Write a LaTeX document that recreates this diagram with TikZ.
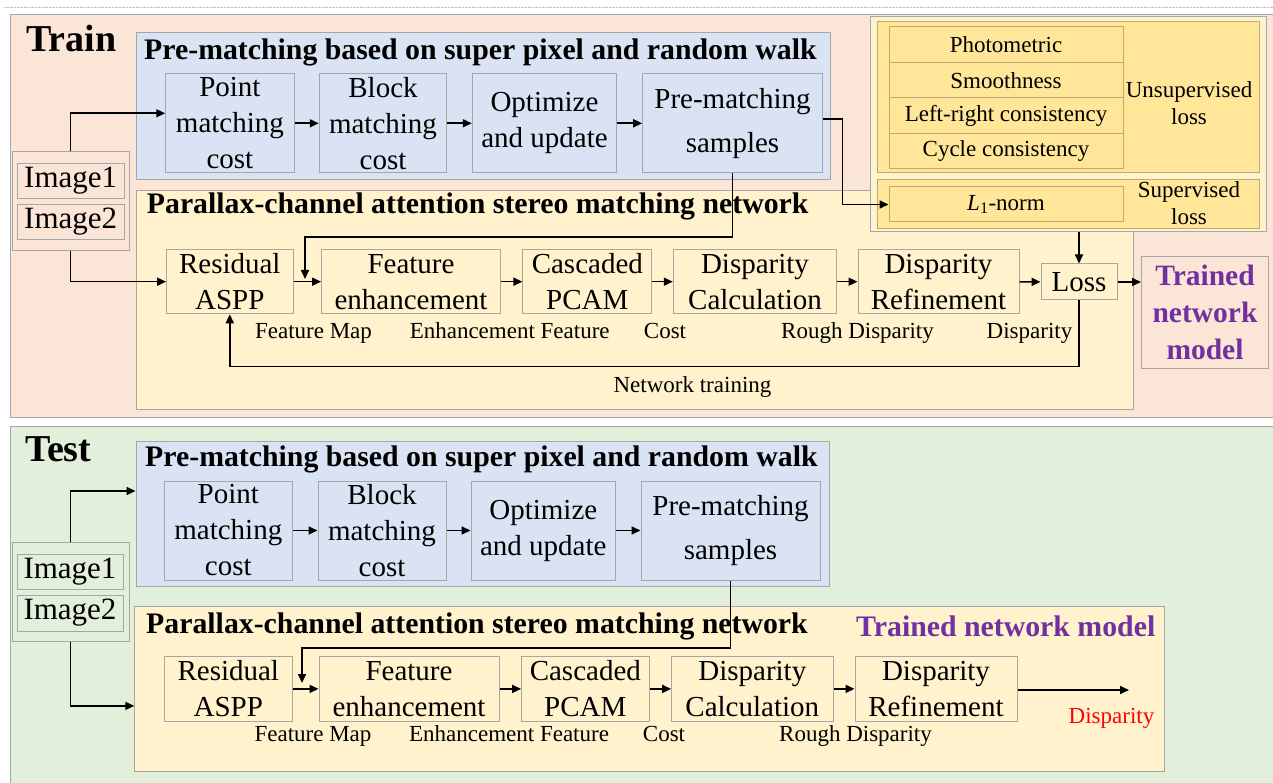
\documentclass[tikz,border=0pt]{standalone}
\usepackage{fontspec}
\setmainfont{Liberation Serif}
\usetikzlibrary{arrows.meta}
\newcommand\myfs[2]{\fontsize{#1}{#2}\selectfont}
\definecolor{peach}{HTML}{FBE5D6}
\definecolor{bluef}{HTML}{DAE3F3}
\definecolor{yelf}{HTML}{FFF2CC}
\definecolor{goldf}{HTML}{FFE699}
\definecolor{greenf}{HTML}{E2EFDA}
\definecolor{bordc}{HTML}{A6A6A6}
\definecolor{goldb}{HTML}{BFAA70}
\definecolor{purp}{HTML}{7030A0}
\tikzset{
  panel/.style={draw=bordc, line width=1pt, inner sep=0pt},
  box/.style={draw=bordc, line width=1pt, inner sep=0pt, align=center, font=\myfs{29}{36}},
  lrow/.style={draw=goldb, fill=goldf, line width=1pt, inner sep=0pt, align=center, font=\myfs{23}{27}, minimum width=234, minimum height=35.5},
  ttl/.style={inner sep=0pt, font=\bfseries\myfs{29.8}{34}},
  big/.style={inner sep=0pt, font=\bfseries\myfs{38}{42}},
  lbl/.style={inner sep=0pt, font=\myfs{23}{27}},
  arr/.style={line width=1.6pt, -{Triangle[length=9pt,width=8pt]}},
}
\begin{document}
\begin{tikzpicture}[x=1pt,y=-1pt]
\useasboundingbox (0,0) rectangle (1273,783);
\draw[densely dotted, gray!50] (4,7) -- (1273,7);
% ================= TRAIN =================
\node[panel, fill=peach, minimum width=1263, minimum height=402] (trainp) at (641.5,216) {};
\node[panel, fill=bluef, minimum width=694, minimum height=147.3] (blue1) at (483.5,106.3) {};
\node[panel, fill=yelf, minimum width=997, minimum height=218] (yel1) at (634.5,300) {};
\node[panel, fill=yelf, minimum width=396, minimum height=215] (lossout) at (1068,124.5) {};
\node[panel, draw=goldb, fill=goldf, minimum width=382, minimum height=151] (unsup) at (1068,97.5) {};
\node[panel, draw=goldb, fill=goldf, minimum width=382, minimum height=49] (sup) at (1068,204.5) {};
\node[lrow] (r1) at (1006,44.75) {Photometric};
\node[lrow] (r2) at (1006,80.25) {Smoothness};
\node[lrow] (r3) at (1006,115.75) {Left-right consistency};
\node[lrow] (r4) at (1006,151.25) {Cycle consistency};
\node[lrow, minimum height=35] (l1) at (1006,204.5) {\textit{L}\textsubscript{1}-norm};
\node[lbl, align=center, font=\myfs{23}{27.3}] (unsuplbl) at (1189,103) {Unsupervised\\loss};
\node[lbl, align=center, font=\myfs{23}{26.6}] (suplbl) at (1189,203) {Supervised\\loss};

\node[big, anchor=base west] (traint) at (26,51.7) {Train};
\node[ttl, anchor=base west] (pret1) at (144,59.3) {Pre-matching based on super pixel and random walk};
\node[ttl, anchor=base west] (part1) at (146.7,213.3) {Parallax-channel attention stereo matching network};

\node[panel, fill=peach, minimum width=117, minimum height=98.3] (img1out) at (70.5,201) {};
\node[box, fill=peach, font=\myfs{31}{34}, minimum width=106.7, minimum height=35.3] (img1a) at (70.7,180.7) {Image1};
\node[box, fill=peach, font=\myfs{31}{34}, minimum width=106.7, minimum height=35.3] (img1b) at (70.7,221.7) {Image2};

\node[box, fill=bluef, minimum width=128.3, minimum height=98.7] (pm1) at (229.9,123.3) {Point\\matching\\cost};
\node[box, fill=bluef, minimum width=127.4, minimum height=98.7] (pm2) at (383,123.3) {Block\\matching\\cost};
\node[box, fill=bluef, minimum width=144.4, minimum height=98.7] (pm3) at (544.5,123.3) {Optimize\\and update};
\node[box, fill=bluef, minimum width=179.6, minimum height=98.7, font=\myfs{29}{44}] (pm4) at (732.5,123.3) {Pre-matching\\samples};

\node[box, fill=yelf, minimum width=126.5, minimum height=64.2] (ra) at (229.8,281.7) {Residual\\ASPP};
\node[box, fill=yelf, minimum width=178.8, minimum height=64.2] (fe) at (411,281.7) {Feature\\enhancement};
\node[box, fill=yelf, minimum width=128.7, minimum height=64.2] (cp) at (587.3,281.7) {Cascaded\\PCAM};
\node[box, fill=yelf, minimum width=163.4, minimum height=64.2] (dc) at (755,281.7) {Disparity\\Calculation};
\node[box, fill=yelf, minimum width=161, minimum height=64.2] (dr) at (938.5,281.7) {Disparity\\Refinement};
\node[box, fill=yelf, minimum width=76, minimum height=36] (loss) at (1079,282) {Loss};
\node[box, fill=peach, minimum width=127, minimum height=111, text=purp, font=\bfseries\myfs{29.5}{37}] (tnm) at (1205,312.5) {Trained\\network\\model};

\node[lbl, anchor=base] (lb1) at (313.5,338) {Feature Map};
\node[lbl, anchor=base] (lb2) at (509.7,338) {Enhancement Feature};
\node[lbl, anchor=base] (lb3) at (665,338) {Cost};
\node[lbl, anchor=base] (lb4) at (857.5,338) {Rough Disparity};
\node[lbl, anchor=base] (lb5) at (1029.5,338) {Disparity};
\node[lbl, anchor=base] (lb6) at (692.5,392) {Network training};

\coordinate (j1) at (305,279);
\draw[arr] (img1out.north) |- ([yshift=10pt]pm1.west);
\draw[arr] (img1out.south) |- (ra.west);
\draw[arr] (pm1) -- (pm2);
\draw[arr] (pm2) -- (pm3);
\draw[arr] (pm3) -- (pm4);
\draw[arr] ([yshift=4pt]pm4.east) -- ++(19.7,0) |- (l1.west);
\draw[arr] (pm4.south) -- ++(0,64) -| (j1);
\draw[arr] (ra) -- (fe);
\draw[arr] (fe) -- (cp);
\draw[arr] (cp) -- (dc);
\draw[arr] (dc) -- (dr);
\draw[arr] (dr) -- (loss);
\draw[arr] (loss.east) -- (tnm.west |- loss.east);
\draw[arr] (loss.north |- lossout.south) -- (loss.north);
\draw[arr] (loss.south) -- ++(0,66) -| (ra.south);

% ================= TEST =================
\node[panel, fill=greenf, minimum width=1263, minimum height=362] (testp) at (641.5,607) {};
\node[panel, fill=bluef, minimum width=693.5, minimum height=145.7] (blue2) at (482.8,513.9) {};
\node[panel, fill=yelf, minimum width=1029.3, minimum height=164.3] (yel2) at (649.4,688.9) {};

\node[big, anchor=base west] (testt) at (25,461.7) {Test};
\node[ttl, anchor=base west] (pret2) at (145,466.7) {Pre-matching based on super pixel and random walk};
\node[ttl, anchor=base west] (part2) at (146,633) {Parallax-channel attention stereo matching network};
\node[ttl, anchor=base west, text=purp] (ttnm) at (856,636.7) {Trained network model};

\node[panel, fill=greenf, minimum width=117, minimum height=98.7] (img2out) at (70.5,592.3) {};
\node[box, fill=greenf, font=\myfs{31}{34}, minimum width=106, minimum height=35] (img2a) at (70,571.5) {Image1};
\node[box, fill=greenf, font=\myfs{31}{34}, minimum width=106, minimum height=36] (img2b) at (70,613) {Image2};

\node[box, fill=bluef, minimum width=127.5, minimum height=99] (tpm1) at (228.3,530.5) {Point\\matching\\cost};
\node[box, fill=bluef, minimum width=128, minimum height=99] (tpm2) at (382,530.5) {Block\\matching\\cost};
\node[box, fill=bluef, minimum width=144.5, minimum height=99] (tpm3) at (543.3,530.5) {Optimize\\and update};
\node[box, fill=bluef, minimum width=179, minimum height=99, font=\myfs{29}{44}] (tpm4) at (730.5,530.5) {Pre-matching\\samples};

\node[box, fill=yelf, minimum width=127.5, minimum height=65.7] (tra) at (228.3,688.9) {Residual\\ASPP};
\node[box, fill=yelf, minimum width=180, minimum height=65.7] (tfe) at (409,688.9) {Feature\\enhancement};
\node[box, fill=yelf, minimum width=127.4, minimum height=65.7] (tcp) at (585.3,688.9) {Cascaded\\PCAM};
\node[box, fill=yelf, minimum width=161.4, minimum height=65.7] (tdc) at (752.3,688.9) {Disparity\\Calculation};
\node[box, fill=yelf, minimum width=162, minimum height=65.7] (tdr) at (936,688.9) {Disparity\\Refinement};

\node[lbl, anchor=base] (tlb1) at (313,741.7) {Feature Map};
\node[lbl, anchor=base] (tlb2) at (509,741.7) {Enhancement Feature};
\node[lbl, anchor=base] (tlb3) at (664,741.7) {Cost};
\node[lbl, anchor=base] (tlb4) at (855.5,741.7) {Rough Disparity};
\node[lbl, anchor=base, text=red] (tdisp) at (1111.5,723) {Disparity};

\coordinate (j2) at (302,683);
\coordinate (tend) at (1129,690);
\draw[arr] (img2out.north) |- ([yshift=22.9pt]blue2.west);
\draw[arr] (img2out.south) |- ([yshift=-17pt]yel2.west);
\draw[arr] (tpm1) -- (tpm2);
\draw[arr] (tpm2) -- (tpm3);
\draw[arr] (tpm3) -- (tpm4);
\draw[arr] (tpm4.south) -- ++(0,67.7) -| (j2);
\draw[arr] (tra) -- (tfe);
\draw[arr] (tfe) -- (tcp);
\draw[arr] (tcp) -- (tdc);
\draw[arr] (tdc) -- (tdr);
\draw[arr] (tdr.east |- tend) -- (tend);
\end{tikzpicture}
\end{document}
